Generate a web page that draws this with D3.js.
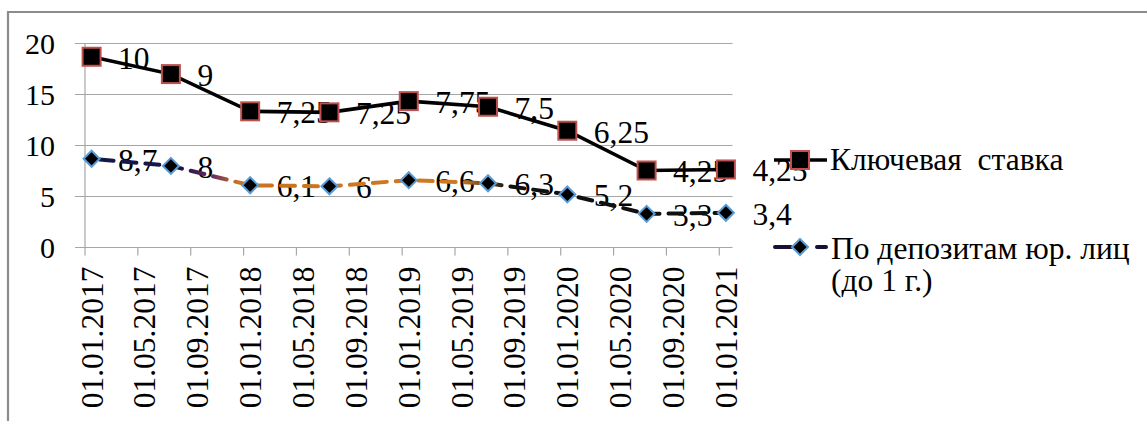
<!DOCTYPE html>
<html>
<head>
<meta charset="utf-8">
<script src="https://cdn.jsdelivr.net/npm/d3@7"></script>
<style>
  html, body { margin: 0; padding: 0; background: #fff; }
  .ws { white-space: pre; }
</style>
</head>
<body>
<svg id="chart" width="1147" height="421" font-family="'Liberation Serif', 'DejaVu Serif', serif"></svg>
<script>
// Observation dates (semi-annual), dd.mm.yyyy
const dates = ["01.01.2017", "01.07.2017", "01.01.2018", "01.07.2018", "01.01.2019",
               "01.07.2019", "01.01.2020", "01.07.2020", "01.01.2021"];
// Key rate, %
const keyRate = [10, 9, 7.25, 7.25, 7.75, 7.5, 6.25, 4.25, 4.25];
// Rates on corporate deposits up to 1 year, %
const depositRate = [8.7, 8, 6.1, 6, 6.6, 6.3, 5.2, 3.3, 3.4];
// Axis ticks
const yTicks = [0, 5, 10, 15, 20];
const xTickLabels = ["01.01.2017", "01.05.2017", "01.09.2017", "01.01.2018", "01.05.2018",
                     "01.09.2018", "01.01.2019", "01.05.2019", "01.09.2019", "01.01.2020",
                     "01.05.2020", "01.09.2020", "01.01.2021"];
const seriesNames = ["Ключевая  ставка", "По депозитам юр. лиц", "(до 1 г.)"];

const svg = d3.select("#chart");
const FONT = 31.5;
const SERIF = "'Liberation Serif', 'DejaVu Serif', serif";

// Month index from January 2017 (date axis with a monthly base unit)
const monthIndex = s => {
  const [d, m, y] = s.split(".").map(Number);
  return (y - 2017) * 12 + (m - 1);
};
const pointIdx = dates.map(monthIndex);
const tickIdx = xTickLabels.map(monthIndex);

const plot = { left: 85, right: 732.5, top: 43.5, bottom: 247.5 };
const x = d3.scaleLinear().domain([0, d3.max(pointIdx) + 1]).range([plot.left, plot.right]);
const y = d3.scaleLinear().domain([0, 20]).range([plot.bottom, plot.top]);
// points sit in the middle of their month
const xc = i => x(i + 0.5);

// chart-area frame (left and top edges)
svg.append("path")
  .attr("d", "M8,421 L8,12 L1147,12")
  .attr("fill", "none").attr("stroke", "#8c8c8c").attr("stroke-width", 2.2);

// horizontal gridlines with outside tick marks
svg.append("g").selectAll("line").data(yTicks).join("line")
  .attr("x1", plot.left - 10).attr("x2", plot.right)
  .attr("y1", d => y(d)).attr("y2", d => y(d))
  .attr("stroke", "#a6a6a6").attr("stroke-width", 1.2);

// y axis line
svg.append("line")
  .attr("x1", plot.left).attr("x2", plot.left)
  .attr("y1", plot.top).attr("y2", plot.bottom)
  .attr("stroke", "#a6a6a6").attr("stroke-width", 1.2);

const txt = (sel, size = FONT) => sel.attr("font-family", SERIF).attr("font-size", size).attr("fill", "#000");

// y tick labels
svg.append("g").selectAll("text").data(yTicks).join("text")
  .call(txt, 30)
  .attr("x", 55).attr("y", d => y(d)).attr("dy", "0.35em")
  .attr("text-anchor", "end")
  .text(d => d);

// x axis ticks and rotated labels
svg.append("g").selectAll("line").data(tickIdx).join("line")
  .attr("x1", d => x(d)).attr("x2", d => x(d))
  .attr("y1", plot.bottom).attr("y2", plot.bottom + 8)
  .attr("stroke", "#a6a6a6").attr("stroke-width", 1.2);
svg.append("g").selectAll("text").data(tickIdx).join("text")
  .call(txt)
  .attr("transform", d => `translate(${xc(d)},${plot.bottom + 19}) rotate(-90)`)
  .attr("dy", "0.35em").attr("text-anchor", "end")
  .text((d, i) => xTickLabels[i]);

// stacked values: deposits at the bottom, key rate on top
const depData = pointIdx.map((m, i) => ({ m, v: depositRate[i], top: depositRate[i] }));
const keyData = pointIdx.map((m, i) => ({ m, v: keyRate[i], top: depositRate[i] + keyRate[i] }));

const line = d3.line().x(d => xc(d.m)).y(d => y(d.top));

// colour ramp along the deposit line
const defs = svg.append("defs");
const grad = defs.append("linearGradient").attr("id", "depGrad")
  .attr("gradientUnits", "userSpaceOnUse")
  .attr("x1", xc(pointIdx[0])).attr("x2", xc(pointIdx[pointIdx.length - 1]))
  .attr("y1", 0).attr("y2", 0);
[[0, "#15164a"], [0.14, "#15164a"], [0.19, "#6a2a63"], [0.23, "#c9721f"],
 [0.58, "#cf7a22"], [0.66, "#101010"], [1, "#101010"]]
  .forEach(([o, c]) => grad.append("stop").attr("offset", o).attr("stop-color", c));

// data labels
const labelFmt = v => String(v).replace(".", ",");
const labels = svg.append("g");
[keyData, depData].forEach(data => {
  labels.append("g").selectAll("text").data(data).join("text")
    .call(txt)
    .attr("x", d => xc(d.m) + 26.5).attr("y", d => y(d.top)).attr("dy", "0.38em")
    .text(d => labelFmt(d.v));
});

// lines
svg.append("path").datum(depData).attr("d", line)
  .attr("fill", "none").attr("stroke", "url(#depGrad)").attr("stroke-width", 4)
  .attr("stroke-dasharray", "14,9").attr("stroke-dashoffset", -8)
  .attr("stroke-linecap", "round");
svg.append("path").datum(keyData).attr("d", line)
  .attr("fill", "none").attr("stroke", "#000").attr("stroke-width", 3.6);

// markers
const diamond = (cx, cy, r) => `M${cx},${cy - r}L${cx + r},${cy}L${cx},${cy + r}L${cx - r},${cy}Z`;
svg.append("g").selectAll("path").data(depData).join("path")
  .attr("d", d => diamond(xc(d.m), y(d.top), 8))
  .attr("fill", "#000").attr("stroke", "#5b9bd5").attr("stroke-width", 2);
svg.append("g").selectAll("rect").data(keyData).join("rect")
  .attr("x", d => xc(d.m) - 9).attr("y", d => y(d.top) - 9)
  .attr("width", 18).attr("height", 18)
  .attr("fill", "#000").attr("stroke", "#c0504d").attr("stroke-width", 2);

// legend
const lg = svg.append("g");
lg.append("line").attr("x1", 774).attr("x2", 827).attr("y1", 160).attr("y2", 160)
  .attr("stroke", "#000").attr("stroke-width", 3.6);
lg.append("rect").attr("x", 791).attr("y", 151).attr("width", 18).attr("height", 18)
  .attr("fill", "#000").attr("stroke", "#c0504d").attr("stroke-width", 2);
lg.append("text").call(txt).attr("class", "ws").attr("x", 830).attr("y", 170)
  .text(seriesNames[0]);

lg.append("line").attr("x1", 775).attr("x2", 827).attr("y1", 247).attr("y2", 247)
  .attr("stroke", "#1a1036").attr("stroke-width", 4)
  .attr("stroke-dasharray", "16,26,9").attr("stroke-linecap", "round");
lg.append("path").attr("d", diamond(800, 247, 8))
  .attr("fill", "#000").attr("stroke", "#5b9bd5").attr("stroke-width", 2);
lg.append("text").call(txt).attr("x", 831).attr("y", 259).text(seriesNames[1]);
lg.append("text").call(txt).attr("x", 831).attr("y", 291).text(seriesNames[2]);
</script>
</body>
</html>
